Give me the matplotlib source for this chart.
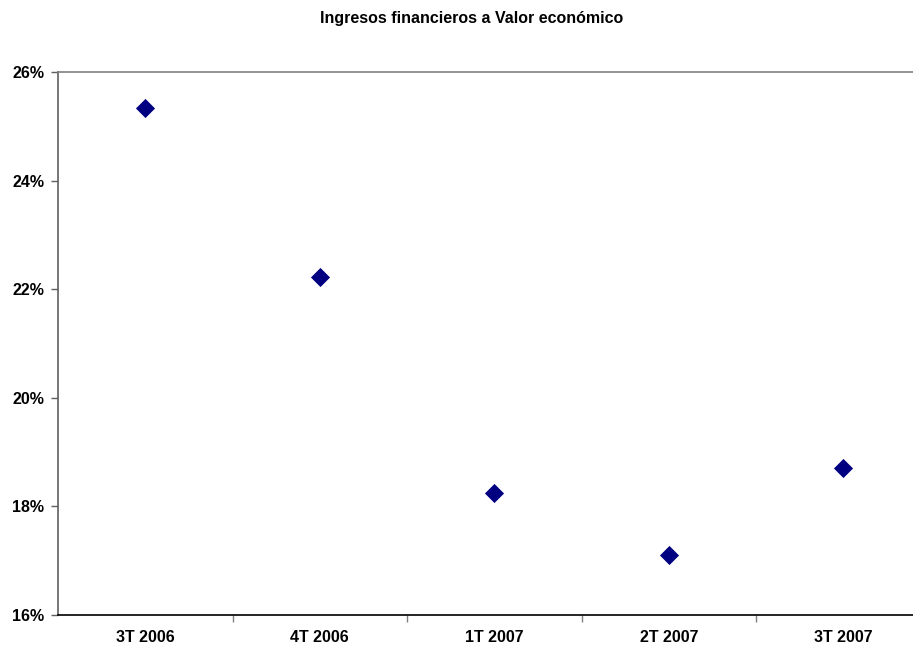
import matplotlib
matplotlib.use("Agg")
import matplotlib.pyplot as plt
from matplotlib.ticker import FuncFormatter

categories = ["3T 2006", "4T 2006", "1T 2007", "2T 2007", "3T 2007"]
values = [25.34, 22.22, 18.25, 17.10, 18.71]
title = "Ingresos financieros a Valor económico"

plt.rcParams['font.family'] = ['Liberation Sans', 'DejaVu Sans']

W, H = 913, 649
fig = plt.figure(figsize=(W/100, H/100), dpi=100)
left, right, top, bottom = 58, 930.5, 72, 615
ax = fig.add_axes([left/W, 1 - bottom/H, (right-left)/W, (bottom-top)/H])

x = list(range(len(categories)))
ax.scatter(x, values, marker='D', s=95, color='#000080', zorder=3, linewidths=0)

ax.set_xlim(-0.5, len(categories) - 0.5)
ax.set_ylim(16, 26)
ax.set_yticks([16, 18, 20, 22, 24, 26])
ax.yaxis.set_major_formatter(FuncFormatter(lambda v, p: f"{v:.0f}%"))
ax.set_xticks(x)
ax.set_xticklabels(categories)
ax.set_xticks([i + 0.5 for i in range(len(categories) - 1)], minor=True)

for lab in ax.get_xticklabels() + ax.get_yticklabels():
    lab.set_fontweight('bold')
    lab.set_fontsize(11.5)

ax.tick_params(axis='x', which='major', length=0, pad=11)
ax.tick_params(axis='x', which='minor', length=5, color='#808080', width=1)
ax.tick_params(axis='y', which='major', length=5, color='#606060', width=1, pad=5)

ax.spines['left'].set_color('#606060')
ax.spines['left'].set_linewidth(1.2)
ax.spines['bottom'].set_color('black')
ax.spines['bottom'].set_linewidth(1.2)
ax.spines['top'].set_color('#808080')
ax.spines['top'].set_linewidth(1.2)
ax.spines['right'].set_visible(False)

fig.text(472/W, 1 - 19/H, title, ha='center', va='center', fontsize=11.5, fontweight='bold')

fig.savefig("out.png", dpi=100)
